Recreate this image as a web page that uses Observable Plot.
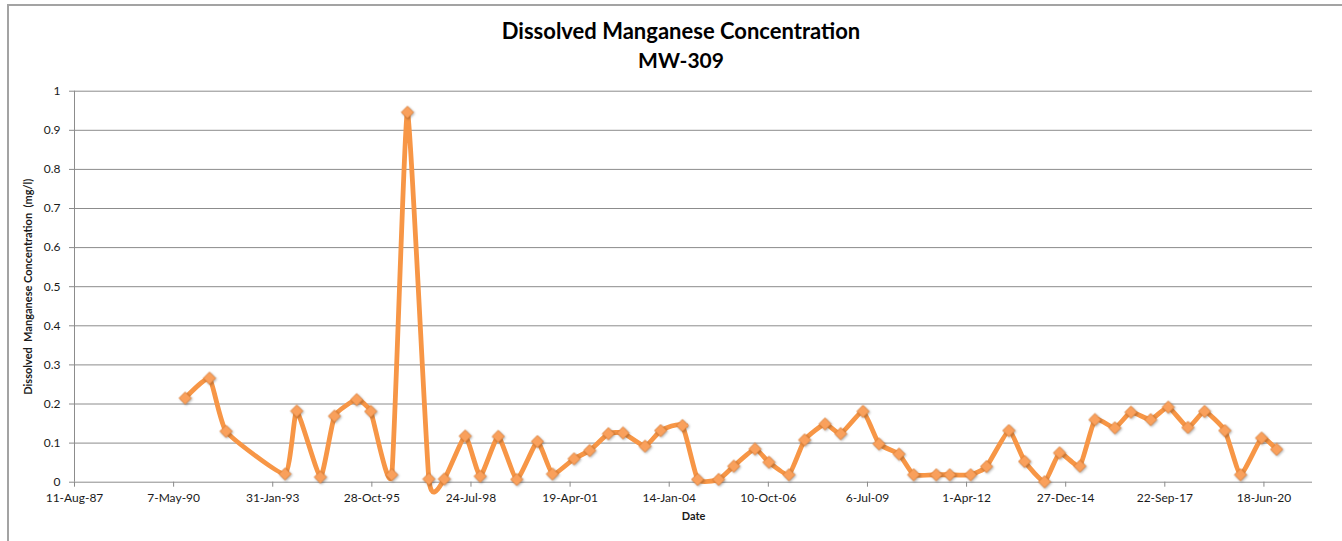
<!DOCTYPE html>
<html>
<head>
<meta charset="utf-8">
<script src="https://cdn.jsdelivr.net/npm/d3@7"></script>
<script src="https://cdn.jsdelivr.net/npm/@observablehq/plot@0.6"></script>
<style>
  html, body { margin: 0; padding: 0; background: #fff; }
  #page { position: relative; width: 1342px; height: 541px; overflow: hidden; font-family: Lato, "Open Sans", sans-serif; }
  #frame { position: absolute; left: 7px; top: 4px; right: -10px; bottom: -10px; border-top: 2px solid #a3a3a3; border-left: 2px solid #a3a3a3; }
  .title { position: absolute; left: 0; width: 1362px; text-align: center; font-weight: bold; color: #000; line-height: 26px; }
  #chart { position: absolute; left: 0; top: 80px; }
  #chart svg text { fill: #1a1a1a; white-space: pre; }
  #chart g[aria-label="dot"] { filter: drop-shadow(1px 1.5px 1px rgba(0,0,0,0.3)); }
</style>
</head>
<body>
<div id="page">
  <div id="frame"></div>
  <div class="title" style="top:18px;font-size:22px">Dissolved Manganese Concentration</div>
  <div class="title" style="top:47px;font-size:21px">MW-309</div>
  <div id="chart"></div>
</div>
<script>
// Sample dates and dissolved manganese concentrations (mg/l)
const sampleDates = [
  "1990-09-01","1991-05-04","1991-10-18","1993-06-04","1993-09-30","1994-05-27","1994-10-16",
  "1995-05-28","1995-10-17","1996-05-16","1996-10-21","1997-05-25","1997-10-28","1998-05-27",
  "1998-10-25","1999-04-25","1999-10-29","2000-05-24","2000-10-23","2001-05-29","2001-11-03",
  "2002-05-10","2002-10-05","2003-05-15","2003-10-20","2004-05-26","2004-10-27","2005-05-27",
  "2005-10-26","2006-05-28","2006-10-16","2007-05-06","2007-10-11","2008-05-04","2008-10-09",
  "2009-05-22","2009-10-30","2010-05-20","2010-10-15","2011-05-31","2011-10-14","2012-05-12",
  "2012-10-20","2013-06-02","2013-11-08","2014-05-28","2014-10-26","2015-05-19","2015-10-18",
  "2016-05-06","2016-10-15","2017-05-03","2017-10-27","2018-05-13","2018-10-28","2019-05-21",
  "2019-10-26","2020-05-25","2020-10-24"
];
const manganese = [
  0.215,0.266,0.130,0.021,0.182,0.013,0.169,
  0.211,0.181,0.019,0.946,0.008,0.008,0.118,
  0.015,0.117,0.007,0.104,0.021,0.060,0.081,
  0.124,0.126,0.092,0.132,0.145,0.007,0.007,
  0.041,0.085,0.051,0.019,0.108,0.149,0.124,
  0.181,0.098,0.072,0.019,0.019,0.019,0.019,
  0.040,0.132,0.053,0.001,0.075,0.041,0.160,
  0.139,0.179,0.160,0.192,0.140,0.181,0.132,
  0.019,0.113,0.084
];

// Axis ticks
const xTickDates = ["1987-08-11","1990-05-07","1993-01-31","1995-10-28","1998-07-24","2001-04-19",
  "2004-01-14","2006-10-10","2009-07-06","2012-04-01","2014-12-27","2017-09-22","2020-06-18"];
const xTickLabels = ["11-Aug-87","7-May-90","31-Jan-93","28-Oct-95","24-Jul-98","19-Apr-01",
  "14-Jan-04","10-Oct-06","6-Jul-09","1-Apr-12","27-Dec-14","22-Sep-17","18-Jun-20"];
const yTicks = [0,0.1,0.2,0.3,0.4,0.5,0.6,0.7,0.8,0.9,1];
const yTickLabels = ["0","0.1","0.2","0.3","0.4","0.5","0.6","0.7","0.8","0.9","1"];
const xDomainEnd = "2021-10-21";

const data = sampleDates.map((d, i) => ({date: new Date(d), value: manganese[i]}));
const xTicks = xTickDates.map(d => new Date(d));
const xLabelOf = new Map(xTicks.map((d, i) => [+d, xTickLabels[i]]));
const yLabelOf = new Map(yTicks.map((v, i) => [v, yTickLabels[i]]));

const chart = Plot.plot({
  width: 1342,
  height: 461,
  marginLeft: 74,
  marginRight: 30,
  marginTop: 10.7,
  marginBottom: 59.3,
  style: {fontFamily: "Lato, 'Open Sans', sans-serif", fontSize: "12px", color: "#8a8a8a", background: "transparent", overflow: "visible"},
  x: {type: "utc", domain: [xTicks[0], new Date(xDomainEnd)], ticks: xTicks, tickFormat: d => xLabelOf.get(+d), tickSize: 5, tickPadding: 6, label: null},
  y: {domain: [0, 1], ticks: yTicks, tickFormat: v => yLabelOf.get(v), tickSize: 5, tickPadding: 9, label: null},
  marks: [
    Plot.ruleY(yTicks, {stroke: "#8c8c8c", strokeWidth: 1}),
    Plot.ruleX([xTicks[0]], {y1: 0, y2: 1, stroke: "#8c8c8c", strokeWidth: 1}),
    Plot.line(data, {x: "date", y: "value", stroke: "#F79646", strokeWidth: 4.8, curve: "cardinal", tension: 0.55}),
    Plot.dot(data, {x: "date", y: "value", symbol: "diamond2", r: 5.5, fill: "#F9A05C", stroke: "#DE7C31", strokeWidth: 0.8}),
    Plot.text(["Dissolved  Manganese Concentration  (mg/l)"], {frameAnchor: "left", textAnchor: "middle", rotate: -90, dx: -46, fontWeight: "bold", fontSize: 11}),
    Plot.text(["Date"], {frameAnchor: "bottom", dy: 38, fontWeight: "bold", fontSize: 11})
  ]
});
document.getElementById("chart").appendChild(chart);
</script>
</body>
</html>
